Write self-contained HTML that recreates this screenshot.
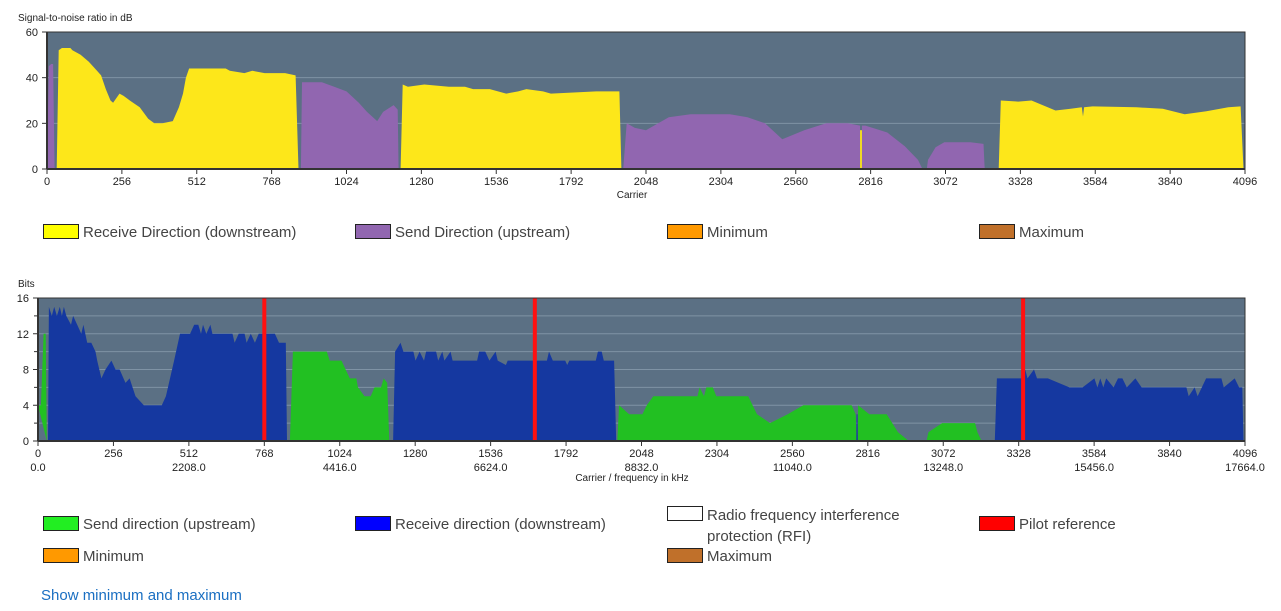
<!DOCTYPE html>
<html><head><meta charset="utf-8">
<style>
body{margin:0;width:1281px;height:611px;background:#fff;font-family:"Liberation Sans",sans-serif;overflow:hidden;position:relative}
.lg{position:absolute;font-size:15px;color:#444;}
.sw{position:absolute;width:34px;height:13px;border:1px solid #222;}
svg text{font-family:"Liberation Sans",sans-serif;}
</style></head><body>
<svg id="chart" width="1281" height="500" style="position:absolute;left:0;top:0"></svg>

<div class="sw" style="left:43px;top:224px;background:#ffff00"></div>
<div class="lg" style="left:83px;top:224px">Receive Direction (downstream)</div>
<div class="sw" style="left:355px;top:224px;background:#9166b0"></div>
<div class="lg" style="left:395px;top:224px">Send Direction (upstream)</div>
<div class="sw" style="left:667px;top:224px;background:#ff9900"></div>
<div class="lg" style="left:707px;top:224px">Minimum</div>
<div class="sw" style="left:979px;top:224px;background:#c0702a"></div>
<div class="lg" style="left:1019px;top:224px">Maximum</div>

<div class="sw" style="left:43px;top:516px;background:#22ee22"></div>
<div class="lg" style="left:83px;top:516px">Send direction (upstream)</div>
<div class="sw" style="left:355px;top:516px;background:#0000ff"></div>
<div class="lg" style="left:395px;top:516px">Receive direction (downstream)</div>
<div class="sw" style="left:667px;top:506px;background:#fff"></div>
<div class="lg" style="left:707px;top:505px;line-height:21px">Radio frequency interference<br>protection (RFI)</div>
<div class="sw" style="left:979px;top:516px;background:#ff0000"></div>
<div class="lg" style="left:1019px;top:516px">Pilot reference</div>
<div class="sw" style="left:43px;top:548px;background:#ff9900"></div>
<div class="lg" style="left:83px;top:548px">Minimum</div>
<div class="sw" style="left:667px;top:548px;background:#c0702a"></div>
<div class="lg" style="left:707px;top:548px">Maximum</div>
<div class="lg" style="left:41px;top:587px;color:#1a6fc2">Show minimum and maximum</div>

<script>
// SNR data (carrier, dB)
const snrUp1=[[0,0],[6,45],[14,46],[21,46],[26,0]];
const snrDown1=[[33,0],[40,52],[51,53],[80,53],[87,52],[115,50],[143,47],[171,43],[185,41],[201,35],[217,30],[226,29],[248,33],[262,32],[283,30],[317,27],[346,22],[367,20],[395,20],[430,21],[451,27],[465,33],[475,40],[486,44],[611,44],[625,43],[675,42],[702,43],[744,42],[814,42],[850,41],[860,0]];
const snrUp2=[[868,0],[872,38],[940,38],[982,36],[1024,34],[1066,29],[1094,25],[1129,21],[1149,25],[1185,28],[1199,26],[1202,0]];
const snrDown2=[[1209,0],[1216,37],[1234,36],[1290,37],[1374,36],[1429,36],[1457,35],[1514,35],[1570,33],[1611,34],[1639,35],[1696,34],[1723,33],[1878,34],[1957,34],[1964,0]];
const snrUp3=[[1970,0],[1982,20],[2010,18],[2048,17],[2126,22.7],[2200,24],[2335,24],[2395,22.7],[2455,20],[2514,13],[2589,17],[2664,20],[2738,20],[2780,19],[2780,0],[2786,0],[2786,19],[2798,19],[2873,16],[2933,10],[2978,4],[2993,0]];
const snrDown3=[[2780,0],[2780,17],[2786,17],[2786,0]];
const snrUp4=[[3008,0],[3012,4],[3038,9.5],[3068,11.7],[3157,11.7],[3202,11],[3206,0]];
const snrDown4=[[3254,0],[3261,30],[3321,29.5],[3366,30],[3448,25.6],[3500,26.4],[3538,27],[3542,23],[3546,27],[3575,27.4],[3725,27],[3815,26.4],[3890,24],[3964,25.3],[4039,27],[4081,27.4],[4091,0]];
// Bits data (carrier, bits)
const bitUp1=[[0,4],[10,4],[19,12],[26,12],[30,0]];
const bitDown1=[[34,0],[37,15],[47,14],[55,15],[64,14],[74,15],[81,14],[88,15],[96,14],[112,13],[119,14],[133,13],[147,12],[154,13],[167,11],[181,11],[195,10],[201,9],[215,7],[229,8],[249,9],[263,8],[277,8],[297,6.5],[311,7],[331,5],[359,4],[420,4],[434,5],[462,9],[482,12],[516,12],[530,13],[544,13],[553,12],[560,13],[571,12],[585,13],[592,12],[660,12],[667,11],[681,12],[701,12],[708,11],[722,12],[736,11],[749,12],[804,12],[818,11],[841,11],[845,0]];
const bitUp2=[[855,0],[865,10],[980,10],[990,9],[1030,9],[1044,8],[1058,7],[1080,7],[1086,6],[1108,5],[1129,5],[1142,6],[1164,6],[1173,7],[1185,6.5],[1192,0]];
const bitDown2=[[1205,0],[1212,10],[1230,11],[1240,10],[1274,10],[1281,9],[1295,10],[1310,9],[1317,10],[1351,10],[1358,9],[1372,10],[1379,9],[1400,10],[1407,9],[1490,9],[1497,10],[1518,10],[1532,9],[1553,10],[1560,9],[1588,8.5],[1594,9],[1727,9],[1734,10],[1747,9],[1789,9],[1796,8.5],[1803,9],[1893,9],[1900,10],[1913,10],[1920,9],[1955,9],[1962,0]];
const bitUp3=[[1966,0],[1972,4],[2006,3],[2051,3],[2066,4],[2088,5],[2238,5],[2245,6],[2260,5],[2268,6],[2290,6],[2302,5],[2410,5],[2440,3],[2484,2],[2544,3],[2597,4],[2761,4],[2775,3],[2778,0],[2782,0],[2783,4],[2821,3],[2880,3],[2918,1],[2955,0]];
const bitDown3=[[2777,0],[2778,3],[2781,3],[2782,0]];
const bitUp4=[[3015,0],[3022,1],[3068,2],[3180,2],[3188,1],[3202,0]];
const bitDown4=[[3247,0],[3254,7],[3344,7],[3350,8],[3358,7],[3380,8],[3390,7],[3405,7],[3427,7],[3500,6],[3545,6],[3585,7],[3595,6],[3605,7],[3615,6],[3625,7],[3650,6],[3665,7],[3680,7],[3695,6],[3724,7],[3745,6],[3897,6],[3905,5],[3925,6],[3935,5],[3964,7],[4016,7],[4024,6],[4061,7],[4076,6],[4087,6],[4091,0]];
const pilots=[768,1686,3343];
const carrierTicks=[0,256,512,768,1024,1280,1536,1792,2048,2304,2560,2816,3072,3328,3584,3840,4096];
const snrTicks=[0,20,40,60];
const bitTicks=[0,4,8,12,16];

const NS='http://www.w3.org/2000/svg';
const svg=document.getElementById('chart');
function mk(t,a,p){const e=document.createElementNS(NS,t);for(const k in a)e.setAttribute(k,a[k]);(p||svg).appendChild(e);return e;}
const top1={x0:47,x1:1245,y0:169,y1:32,max:60};
const bot={x0:38,x1:1245,y0:441,y1:298,max:16};
function sx(c,p){return p.x0+c/4096*(p.x1-p.x0);}
function sy(v,p){return p.y0-v/p.max*(p.y0-p.y1);}
function area(d,p,col,name){
  const pts=d.map(q=>sx(q[0],p).toFixed(1)+','+sy(q[1],p).toFixed(1)).join(' ');
  const e=mk('polygon',{points:pts,fill:col});
  
  
}
function frame(p,ticks,minor,nm){
  const r=mk('rect',{x:p.x0,y:p.y1,width:p.x1-p.x0,height:p.y0-p.y1,fill:'#5b7084'});
  
  
  ticks.forEach(v=>{
    if(v>0&&v<p.max) mk('line',{x1:p.x0,x2:p.x1,y1:sy(v,p),y2:sy(v,p),stroke:'#7f93a5','stroke-width':1});
    const t=mk('text',{x:p.x0-9,y:sy(v,p)+4,'font-size':11,'text-anchor':'end',fill:'#222'});t.textContent=v;
    
    
    mk('line',{x1:p.x0-5,x2:p.x0,y1:sy(v,p),y2:sy(v,p),stroke:'#333'});
  });
  if(minor){for(let v=2;v<p.max;v+=4){mk('line',{x1:p.x0,x2:p.x1,y1:sy(v,p),y2:sy(v,p),stroke:'#7f93a5'});mk('line',{x1:p.x0-4,x2:p.x0,y1:sy(v,p),y2:sy(v,p),stroke:'#333'});}}
}
function axes(p,freq,nm){
  mk('rect',{x:p.x0,y:p.y1,width:p.x1-p.x0,height:p.y0-p.y1,fill:'none',stroke:'#333','stroke-width':1});
  mk('line',{x1:p.x0,x2:p.x1,y1:p.y0,y2:p.y0,stroke:'#333','stroke-width':2});
  mk('line',{x1:p.x0,x2:p.x0,y1:p.y1,y2:p.y0,stroke:'#333','stroke-width':2});
  carrierTicks.forEach(c=>{
    const x=sx(c,p);
    mk('line',{x1:x,x2:x,y1:p.y0,y2:p.y0+5,stroke:'#333'});
    const t=mk('text',{x:x,y:p.y0+16,'font-size':11,'text-anchor':'middle',fill:'#222'});t.textContent=c;
    
    
    if(freq&&c%512===0){const f=mk('text',{x:x,y:p.y0+30,'font-size':11,'text-anchor':'middle',fill:'#222'});f.textContent=(c*4.3125).toFixed(1);
      
      }
  });
}
frame(top1,snrTicks,false,'snr');
area(snrUp1,top1,'#9166b0','snr-upstream-1');
area(snrDown1,top1,'#fde71a','snr-downstream-1');
area(snrUp2,top1,'#9166b0','snr-upstream-2');
area(snrDown2,top1,'#fde71a','snr-downstream-2');
area(snrUp3,top1,'#9166b0','snr-upstream-3');
area(snrDown3,top1,'#fde71a','snr-downstream-3');
area(snrUp4,top1,'#9166b0','snr-upstream-4');
area(snrDown4,top1,'#fde71a','snr-downstream-4');
axes(top1,false,'snr');
frame(bot,bitTicks,true,'bits');
area(bitUp1,bot,'#22c022','bits-upstream-1');
area(bitDown1,bot,'#1538a0','bits-downstream-1');
area(bitUp2,bot,'#22c022','bits-upstream-2');
area(bitDown2,bot,'#1538a0','bits-downstream-2');
area(bitUp3,bot,'#22c022','bits-upstream-3');
area(bitDown3,bot,'#1538a0','bits-downstream-3');
area(bitUp4,bot,'#22c022','bits-upstream-4');
area(bitDown4,bot,'#1538a0','bits-downstream-4');
pilots.forEach(c=>{const l=mk('line',{x1:sx(c,bot),x2:sx(c,bot),y1:bot.y1,y2:bot.y0,stroke:'#ff1010','stroke-width':4});
  
  });
axes(bot,true,'bits');
function label(x,y,s,anchor,name){const t=mk('text',{x:x,y:y,'font-size':10,'text-anchor':anchor,fill:'#222'});t.textContent=s;
  
  }
label(18,21,'Signal-to-noise ratio in dB','start','snr-y-axis-title');
label(632,198,'Carrier','middle','snr-x-axis-title');
label(18,287,'Bits','start','bits-y-axis-title');
label(632,481,'Carrier / frequency in kHz','middle','bits-x-axis-title');
</script>
</body></html>
